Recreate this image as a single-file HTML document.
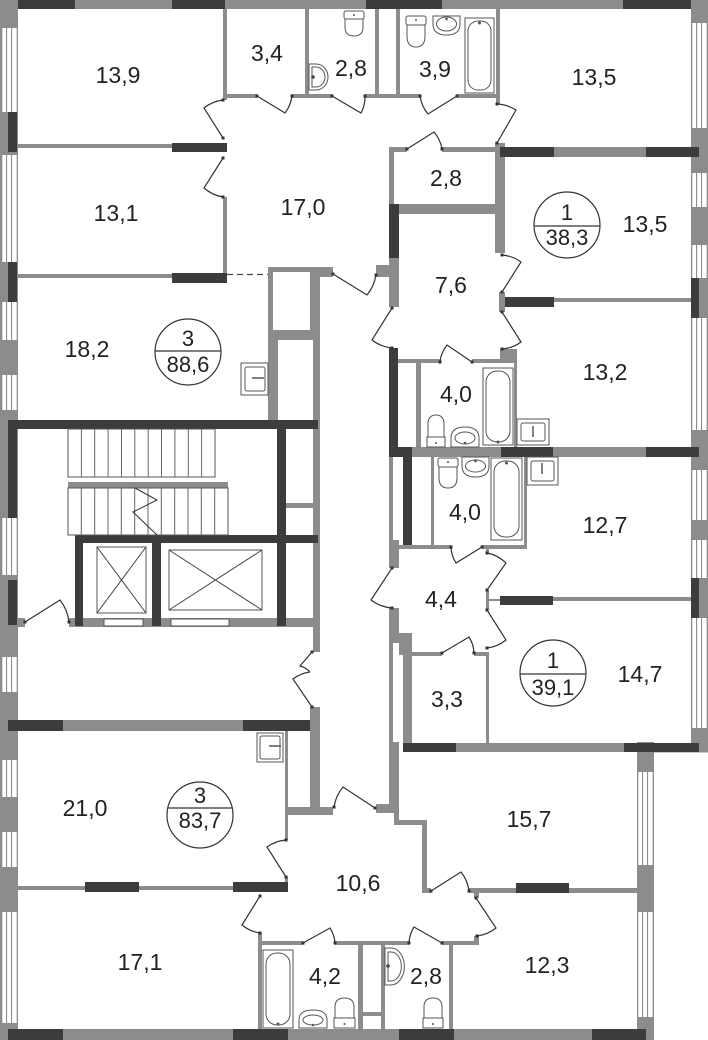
<!DOCTYPE html>
<html><head><meta charset="utf-8">
<style>
html,body{margin:0;padding:0;background:#fff}
svg{display:block}
.g{fill:#8c8c8c}
.d{fill:#3c3c3c}
.ln{stroke:#333;stroke-width:1.2;fill:none}
.fx{fill:#fff;stroke:#555;stroke-width:1}
.st{stroke:#666;stroke-width:1}
text{font-family:"Liberation Sans",Arial,sans-serif;font-size:23px;fill:#222;text-anchor:middle}
.c{font-size:22px}
</style></head>
<body>
<svg width="708" height="1040" viewBox="0 0 708 1040" xmlns="http://www.w3.org/2000/svg">
<defs>
<pattern id="wl" patternUnits="userSpaceOnUse" x="1" y="0" width="17" height="20">
<rect width="17" height="20" fill="#fff"/>
<rect x="0" y="0" width="1.3" height="20" fill="#8c8c8c"/>
<rect x="5" y="0" width="1.1" height="20" fill="#8c8c8c"/>
<rect x="10" y="0" width="1.1" height="20" fill="#8c8c8c"/>
<rect x="15.7" y="0" width="1.3" height="20" fill="#8c8c8c"/>
</pattern>
<pattern id="wr" patternUnits="userSpaceOnUse" x="691" y="0" width="17" height="20">
<rect width="17" height="20" fill="#fff"/>
<rect x="0" y="0" width="1.3" height="20" fill="#8c8c8c"/>
<rect x="5" y="0" width="1.1" height="20" fill="#8c8c8c"/>
<rect x="10" y="0" width="1.1" height="20" fill="#8c8c8c"/>
<rect x="15.7" y="0" width="1.3" height="20" fill="#8c8c8c"/>
</pattern>
<pattern id="wb" patternUnits="userSpaceOnUse" x="637" y="0" width="17" height="20">
<rect width="17" height="20" fill="#fff"/>
<rect x="0" y="0" width="1.3" height="20" fill="#8c8c8c"/>
<rect x="5" y="0" width="1.1" height="20" fill="#8c8c8c"/>
<rect x="10" y="0" width="1.1" height="20" fill="#8c8c8c"/>
<rect x="15.7" y="0" width="1.3" height="20" fill="#8c8c8c"/>
</pattern>
</defs>
<rect width="708" height="1040" fill="#fff"/>

<!-- OUTER WALLS -->
<rect class="g" x="0" y="0" width="708" height="9"/>
<rect class="d" x="0" y="0" width="75" height="9"/>
<rect class="d" x="172" y="0" width="53" height="9"/>
<rect class="d" x="366" y="0" width="76" height="9"/>
<rect class="d" x="623" y="0" width="76" height="9"/>

<rect class="g" x="0" y="0" width="18" height="1040"/>
<rect fill="url(#wl)" x="1" y="28" width="17" height="84"/>
<rect fill="url(#wl)" x="1" y="155" width="17" height="107"/>
<rect fill="url(#wl)" x="1" y="302" width="17" height="38"/>
<rect fill="url(#wl)" x="1" y="375" width="17" height="35"/>
<rect fill="url(#wl)" x="1" y="518" width="17" height="57"/>
<rect fill="url(#wl)" x="1" y="657" width="17" height="35"/>
<rect fill="url(#wl)" x="1" y="760" width="17" height="37"/>
<rect fill="url(#wl)" x="1" y="832" width="17" height="35"/>
<rect fill="url(#wl)" x="1" y="912" width="17" height="111"/>
<rect class="d" x="8" y="112" width="9" height="40"/>
<rect class="d" x="8" y="262" width="9" height="40"/>
<rect class="d" x="8" y="420" width="9" height="98"/>
<rect class="d" x="8" y="580" width="9" height="45"/>

<rect class="g" x="691" y="0" width="17" height="752"/>
<rect fill="url(#wr)" x="691" y="23" width="17" height="105"/>
<rect fill="url(#wr)" x="691" y="173" width="17" height="34"/>
<rect fill="url(#wr)" x="691" y="245" width="17" height="33"/>
<rect fill="url(#wr)" x="691" y="318" width="17" height="112"/>
<rect fill="url(#wr)" x="691" y="470" width="17" height="50"/>
<rect fill="url(#wr)" x="691" y="540" width="17" height="38"/>
<rect fill="url(#wr)" x="691" y="618" width="17" height="110"/>
<rect class="d" x="691" y="278" width="8" height="40"/>
<rect class="d" x="691" y="578" width="8" height="40"/>

<rect class="g" x="637" y="742" width="17" height="298"/>
<rect fill="url(#wb)" x="637" y="772" width="17" height="93"/>
<rect fill="url(#wb)" x="637" y="912" width="17" height="105"/>
<rect class="g" x="654" y="751" width="54" height="1.5"/>

<rect class="g" x="0" y="1029" width="654" height="11"/>
<rect class="d" x="8" y="1029" width="55" height="11"/>
<rect class="d" x="233" y="1029" width="55" height="11"/>
<rect class="d" x="399" y="1029" width="55" height="11"/>
<rect class="d" x="592" y="1029" width="54" height="11"/>

<!-- TOP-LEFT APARTMENT -->
<rect class="g" x="223" y="9" width="4" height="91"/>
<rect class="g" x="223" y="197" width="4" height="77"/>
<rect class="g" x="18" y="144" width="154" height="4"/>
<rect class="d" x="172" y="143" width="55" height="9"/>
<rect class="g" x="18" y="274" width="154" height="4"/>
<rect class="d" x="172" y="273" width="55" height="10"/>
<line x1="227" y1="274.5" x2="268" y2="274.5" stroke="#444" stroke-width="1.2" stroke-dasharray="6,4"/>
<rect class="g" x="223" y="94" width="34" height="4"/>
<rect class="g" x="292" y="94" width="40" height="4"/>
<rect class="g" x="365" y="94" width="55" height="4"/>
<rect class="g" x="457" y="94" width="42" height="4"/>
<rect class="g" x="305" y="9" width="4" height="87"/>
<rect class="g" x="375" y="9" width="4" height="87"/>
<rect class="g" x="396" y="9" width="4" height="87"/>
<rect class="g" x="496" y="9" width="4" height="95"/>
<rect class="g" x="495" y="143" width="10" height="110"/>
<rect class="g" x="389" y="147" width="18" height="5"/>
<rect class="g" x="442" y="147" width="58" height="5"/>
<rect class="g" x="389" y="147" width="5" height="58"/>
<rect class="g" x="394" y="204" width="111" height="10"/>
<rect class="d" x="389" y="204" width="10" height="54"/>
<rect class="g" x="389" y="258" width="10" height="49"/>
<rect class="g" x="376" y="265" width="23" height="12"/>

<!-- right top walls -->
<rect class="d" x="500" y="147" width="54" height="10"/>
<rect class="g" x="554" y="147" width="92" height="10"/>
<rect class="d" x="646" y="147" width="53" height="10"/>
<rect class="d" x="500" y="297" width="54" height="10"/>
<rect class="g" x="554" y="298" width="137" height="4"/>
<rect class="g" x="499" y="292" width="6" height="20"/>
<rect class="g" x="500" y="349" width="17" height="14"/>

<rect class="d" x="389" y="348" width="9" height="109"/>
<rect class="g" x="398" y="359" width="43" height="4"/>
<rect class="g" x="472" y="359" width="30" height="4"/>
<rect class="g" x="416" y="363" width="5" height="84"/>
<rect class="g" x="514" y="360" width="3" height="87"/>

<rect class="d" x="389" y="447" width="23" height="10"/>
<rect class="g" x="412" y="447" width="89" height="10"/>
<rect class="d" x="501" y="447" width="52" height="10"/>
<rect class="g" x="553" y="447" width="93" height="10"/>
<rect class="d" x="646" y="447" width="53" height="10"/>

<rect class="g" x="389" y="457" width="4" height="83"/>
<rect class="d" x="403" y="447" width="9" height="101"/>
<rect class="g" x="431" y="457" width="3" height="88"/>
<rect class="g" x="524" y="457" width="3" height="91"/>
<rect class="g" x="389" y="545" width="62" height="4"/>
<rect class="g" x="482" y="545" width="45" height="4"/>
<rect class="g" x="389" y="540" width="10" height="28"/>

<rect class="g" x="486" y="549" width="3" height="4"/>
<rect class="g" x="486" y="590" width="3" height="20"/>
<rect class="g" x="489" y="599" width="11" height="2"/>
<rect class="d" x="500" y="596" width="53" height="9"/>
<rect class="g" x="553" y="597" width="138" height="4"/>
<rect class="g" x="389" y="608" width="10" height="35"/>
<rect class="g" x="399" y="633" width="13" height="22"/>
<rect class="g" x="389" y="643" width="4" height="99"/>
<rect class="g" x="403" y="643" width="9" height="109"/>
<rect class="g" x="412" y="652" width="30" height="4"/>
<rect class="g" x="474" y="652" width="15" height="4"/>
<rect class="g" x="486" y="652" width="3" height="91"/>

<rect class="d" x="403" y="743" width="53" height="9"/>
<rect class="g" x="456" y="743" width="168" height="9"/>
<rect class="d" x="624" y="743" width="75" height="9"/>

<!-- bottom right -->
<rect class="g" x="389" y="742" width="10" height="66"/>
<rect class="g" x="376" y="804" width="23" height="9"/>
<rect class="g" x="394" y="808" width="5" height="17"/>
<rect class="g" x="394" y="820" width="33" height="5"/>
<rect class="g" x="422" y="820" width="5" height="73"/>
<rect class="g" x="422" y="888" width="9" height="5"/>
<rect class="g" x="469" y="888" width="47" height="5"/>
<rect class="d" x="516" y="883" width="53" height="10"/>
<rect class="g" x="569" y="888" width="68" height="5"/>
<rect class="g" x="474" y="893" width="5" height="5"/>
<rect class="g" x="474" y="936" width="5" height="9"/>
<rect class="g" x="442" y="941" width="37" height="4"/>
<rect class="g" x="449" y="945" width="4" height="84"/>
<rect class="g" x="381" y="941" width="4" height="88"/>
<rect class="g" x="358" y="941" width="5" height="88"/>
<rect class="g" x="363" y="1012" width="18" height="4"/>
<rect class="g" x="258" y="941" width="45" height="4"/>
<rect class="g" x="335" y="941" width="74" height="4"/>
<rect class="g" x="258" y="933" width="4" height="96"/>

<!-- bottom left -->
<rect class="d" x="8" y="720" width="55" height="11"/>
<rect class="g" x="63" y="720" width="180" height="11"/>
<rect class="d" x="243" y="720" width="77" height="11"/>
<rect class="g" x="310" y="707" width="10" height="103"/>
<rect class="g" x="285" y="731" width="3" height="109"/>
<rect class="g" x="288" y="807" width="45" height="8"/>
<rect class="g" x="285" y="877" width="3" height="5"/>
<rect class="g" x="18" y="886" width="67" height="4"/>
<rect class="d" x="85" y="882" width="54" height="10"/>
<rect class="g" x="139" y="886" width="94" height="4"/>
<rect class="d" x="233" y="882" width="55" height="10"/>

<!-- shaft / stair block -->
<rect class="g" x="268" y="267" width="52" height="153"/>
<rect fill="#fff" x="273" y="272" width="37" height="58"/>
<rect fill="#fff" x="278" y="340" width="35" height="80"/>
<rect class="g" x="320" y="267" width="13" height="10"/>
<rect class="g" x="313" y="267" width="7" height="385"/>
<rect class="g" x="286" y="503" width="27" height="5"/>
<rect class="g" x="18" y="618" width="7" height="9"/>
<rect class="g" x="69" y="618" width="249" height="9"/>
<rect class="d" x="8" y="420" width="310" height="9"/>
<rect class="d" x="277" y="420" width="9" height="206"/>
<rect class="d" x="75" y="535" width="243" height="8"/>
<rect class="d" x="75" y="535" width="8" height="91"/>
<rect class="d" x="152" y="535" width="9" height="91"/>
<rect class="fx" x="104" y="619" width="39" height="7"/>
<rect class="fx" x="171" y="619" width="58" height="7"/>

<!-- stairs -->
<rect class="fx" x="68" y="429" width="147" height="48"/>
<path class="st" d="M81.4,429V477M94.7,429V477M108.1,429V477M121.5,429V477M134.8,429V477M148.2,429V477M161.5,429V477M174.9,429V477M188.3,429V477M201.6,429V477"/>
<rect class="g" x="68" y="482" width="160" height="6"/>
<rect class="fx" x="68" y="488" width="160" height="47"/>
<path class="st" d="M81.3,488V535M94.7,488V535M108,488V535M121.3,488V535M134.7,488V535M148,488V535M161.3,488V535M174.7,488V535M188,488V535M201.3,488V535M214.7,488V535"/>
<polyline points="135,488 157,500 133,512 157,535" fill="none" stroke="#333" stroke-width="1"/>

<!-- elevators -->
<rect class="fx" x="97" y="547" width="49" height="66" stroke="#444"/>
<path d="M97,547L146,613M146,547L97,613" stroke="#444" stroke-width="1"/>
<rect class="fx" x="169" y="550" width="93" height="60" stroke="#444"/>
<path d="M169,550L262,610M262,550L169,610" stroke="#444" stroke-width="1"/>

<!-- DOORS -->
<g class="ln">
<path d="M257,96 L285,113 A35,35 0 0 0 292,96"/>
<path d="M332,96 L361,113 A33,33 0 0 0 365,96"/>
<path d="M457,96 L428,114 A37,37 0 0 1 420,96"/>
<path d="M223,138 L204,108 A38,38 0 0 1 223,100"/>
<path d="M223,158 L204,188 A39,39 0 0 0 223,197"/>
<path d="M497,143 L516,110 A39,39 0 0 0 497,104"/>
<path d="M407,149 L434,132 A35,35 0 0 1 442,149"/>
<path d="M333,274 L367,295 A43,43 0 0 0 376,275"/>
<path d="M392,308 L372,340 A40,40 0 0 0 392,348"/>
<path d="M502,292 L521,262 A37,37 0 0 0 502,255"/>
<path d="M502,312 L521,342 A37,37 0 0 1 502,349"/>
<path d="M472,362 L447,345 A32,32 0 0 0 440,362"/>
<path d="M482,547 L456,563 A31,31 0 0 1 451,547"/>
<path d="M487,590 L506,563 A37,37 0 0 0 487,553"/>
<path d="M487,610 L506,640 A38,38 0 0 1 487,648"/>
<path d="M392,568 L371,600 A40,40 0 0 0 392,608"/>
<path d="M442,653 L469,637 A32,32 0 0 1 474,653"/>
<path d="M25,622 L60,600 A44,44 0 0 1 69,622"/>
<path d="M312,652 L300,666 Q305,667 310,672 M312,707 L293,679 Q301,673 310,672"/>
<path d="M375,808 L343,787 A41,41 0 0 0 334,807"/>
<path d="M286,877 L267,847 A37,37 0 0 1 286,840"/>
<path d="M260,896 L242,925 A37,37 0 0 0 260,933"/>
<path d="M303,943 L330,928 A32,32 0 0 1 335,943"/>
<path d="M442,943 L414,927 A33,33 0 0 0 409,943"/>
<path d="M431,891 L461,872 A38,38 0 0 1 469,891"/>
<path d="M476,898 L496,928 A38,38 0 0 1 477,936"/>
</g>
<g fill="#333">
<rect x="255.5" y="94.5" width="3" height="3"/><rect x="290.5" y="94.5" width="3" height="3"/>
<rect x="330.5" y="94.5" width="3" height="3"/><rect x="363.5" y="94.5" width="3" height="3"/>
<rect x="455.5" y="94.5" width="3" height="3"/><rect x="418.5" y="94.5" width="3" height="3"/>
<rect x="221.5" y="136.5" width="3" height="3"/><rect x="221.5" y="98.5" width="3" height="3"/>
<rect x="221.5" y="156.5" width="3" height="3"/><rect x="221.5" y="195.5" width="3" height="3"/>
<rect x="495.5" y="141.5" width="3" height="3"/><rect x="495.5" y="102.5" width="3" height="3"/>
<rect x="405.5" y="147.5" width="3" height="3"/><rect x="440.5" y="147.5" width="3" height="3"/>
<rect x="331.5" y="272.5" width="3" height="3"/><rect x="374.5" y="273.5" width="3" height="3"/>
<rect x="390.5" y="306.5" width="3" height="3"/><rect x="390.5" y="346.5" width="3" height="3"/>
<rect x="500.5" y="290.5" width="3" height="3"/><rect x="500.5" y="253.5" width="3" height="3"/>
<rect x="500.5" y="310.5" width="3" height="3"/><rect x="500.5" y="347.5" width="3" height="3"/>
<rect x="470.5" y="360.5" width="3" height="3"/><rect x="438.5" y="360.5" width="3" height="3"/>
<rect x="480.5" y="545.5" width="3" height="3"/><rect x="449.5" y="545.5" width="3" height="3"/>
<rect x="485.5" y="588.5" width="3" height="3"/><rect x="485.5" y="551.5" width="3" height="3"/>
<rect x="485.5" y="608.5" width="3" height="3"/><rect x="485.5" y="646.5" width="3" height="3"/>
<rect x="390.5" y="566.5" width="3" height="3"/><rect x="390.5" y="606.5" width="3" height="3"/>
<rect x="440.5" y="651.5" width="3" height="3"/><rect x="472.5" y="651.5" width="3" height="3"/>
<rect x="23.5" y="620.5" width="3" height="3"/><rect x="67.5" y="620.5" width="3" height="3"/>
<rect x="310.5" y="650.5" width="3" height="3"/><rect x="310.5" y="705.5" width="3" height="3"/>
<rect x="373.5" y="806.5" width="3" height="3"/><rect x="332.5" y="805.5" width="3" height="3"/>
<rect x="284.5" y="875.5" width="3" height="3"/><rect x="284.5" y="838.5" width="3" height="3"/>
<rect x="258.5" y="894.5" width="3" height="3"/><rect x="258.5" y="931.5" width="3" height="3"/>
<rect x="301.5" y="941.5" width="3" height="3"/><rect x="333.5" y="941.5" width="3" height="3"/>
<rect x="440.5" y="941.5" width="3" height="3"/><rect x="407.5" y="941.5" width="3" height="3"/>
<rect x="429.5" y="889.5" width="3" height="3"/><rect x="467.5" y="889.5" width="3" height="3"/>
<rect x="474.5" y="896.5" width="3" height="3"/><rect x="475.5" y="934.5" width="3" height="3"/>
</g>

<!-- FIXTURES -->
<rect class="fx" x="344" y="11" width="20" height="8" rx="2"/>
<path class="fx" d="M345,19 L345,27 Q345,36 354,36 Q363,36 363,27 L363,19 Z"/>
<circle cx="354" cy="15" r="1" fill="#555"/>
<path class="fx" d="M309,64 L316,64 A12,13 0 0 1 316,90 L309,90 Z"/>
<path class="fx" d="M312,67 L316,67 A9,10 0 0 1 316,87 L312,87 Z"/>
<circle cx="313" cy="77" r="1.8" fill="#444"/>
<rect class="fx" x="406" y="16" width="20" height="9" rx="2"/>
<path class="fx" d="M407,25 L407,36 Q407,47 416,47 Q425,47 425,36 L425,25 Z"/>
<circle cx="416" cy="20" r="1" fill="#555"/>
<path class="fx" d="M433,16 L460,16 L460,24 Q460,35 446.5,35 Q433,35 433,24 Z"/>
<ellipse class="fx" cx="446.5" cy="24" rx="10" ry="7"/>
<circle cx="446.5" cy="19" r="1.3" fill="#555"/>
<rect class="fx" x="465" y="18" width="29" height="75"/>
<rect class="fx" x="468" y="21" width="23" height="69" rx="10"/>
<circle cx="479.5" cy="23" r="1.5" fill="#555"/>
<path class="fx" d="M428,437 L428,424 Q428,415 436,415 Q444,415 444,424 L444,437 Z"/>
<rect class="fx" x="427" y="437" width="18" height="10"/>
<circle cx="436" cy="443" r="1" fill="#555"/>
<path class="fx" d="M451,447 L451,438 Q451,427 465,427 Q479,427 479,438 L479,447 Z"/>
<ellipse class="fx" cx="465" cy="438" rx="10" ry="6"/>
<circle cx="465" cy="443" r="1.3" fill="#555"/>
<rect class="fx" x="483" y="368" width="30" height="77"/>
<rect class="fx" x="486" y="371" width="24" height="71" rx="11"/>
<circle cx="498" cy="442" r="1.5" fill="#555"/>
<rect class="fx" x="517" y="419" width="32" height="26"/>
<rect class="fx" x="521" y="423" width="24" height="18" rx="2"/>
<path d="M533,426V437" stroke="#555" stroke-width="1.5"/>
<rect class="fx" x="438" y="458" width="20" height="9" rx="2"/>
<path class="fx" d="M439,467 L439,478 Q439,488 448,488 Q457,488 457,478 L457,467 Z"/>
<circle cx="448" cy="462" r="1" fill="#555"/>
<path class="fx" d="M462,457 L489,457 L489,466 Q489,477 475.5,477 Q462,477 462,466 Z"/>
<ellipse class="fx" cx="475.5" cy="466" rx="10" ry="6"/>
<circle cx="475.5" cy="461" r="1.3" fill="#555"/>
<rect class="fx" x="491" y="458" width="31" height="82"/>
<rect class="fx" x="494" y="461" width="25" height="76" rx="11"/>
<circle cx="506.5" cy="463" r="1.5" fill="#555"/>
<rect class="fx" x="527" y="457" width="31" height="28"/>
<rect class="fx" x="531" y="461" width="23" height="20" rx="2"/>
<path d="M542,463V474" stroke="#555" stroke-width="1.5"/>
<rect class="fx" x="241" y="363" width="27" height="32"/>
<rect class="fx" x="245" y="367" width="20" height="24" rx="2"/>
<path d="M252,378H264" stroke="#555" stroke-width="1.5"/>
<rect class="fx" x="257" y="733" width="26" height="29"/>
<rect class="fx" x="260" y="736" width="20" height="23" rx="2"/>
<path d="M269,746H281" stroke="#555" stroke-width="1.5"/>
<rect class="fx" x="263" y="950" width="30" height="78"/>
<rect class="fx" x="266" y="953" width="24" height="72" rx="11"/>
<circle cx="278" cy="1024" r="1.5" fill="#555"/>
<path class="fx" d="M299,1028 L299,1020 Q299,1010 313,1010 Q327,1010 327,1020 L327,1028 Z"/>
<ellipse class="fx" cx="313" cy="1020" rx="10" ry="5"/>
<circle cx="313" cy="1025" r="1.3" fill="#555"/>
<path class="fx" d="M335,1018 L335,1007 Q335,998 344.5,998 Q354,998 354,1007 L354,1018 Z"/>
<rect class="fx" x="334" y="1018" width="21" height="10"/>
<circle cx="344.5" cy="1024" r="1" fill="#555"/>
<path class="fx" d="M385,948 L391,948 A13,18 0 0 1 391,985 L385,985 Z"/>
<path class="fx" d="M388,952 L391,952 A10,14 0 0 1 391,981 L388,981 Z"/>
<circle cx="388" cy="966" r="1.8" fill="#444"/>
<path class="fx" d="M424,1018 L424,1007 Q424,998 433,998 Q442,998 442,1007 L442,1018 Z"/>
<rect class="fx" x="423" y="1018" width="20" height="10"/>
<circle cx="433" cy="1024" r="1" fill="#555"/>

<!-- CIRCLE BADGES -->
<g fill="none" stroke="#333" stroke-width="1.2">
<circle cx="188" cy="352" r="33"/><line x1="155" y1="351" x2="221" y2="351"/>
<circle cx="567" cy="225" r="33"/><line x1="534" y1="226" x2="600" y2="226"/>
<circle cx="553" cy="673" r="33"/><line x1="520" y1="674" x2="586" y2="674"/>
<circle cx="200" cy="815" r="33"/><line x1="168" y1="808" x2="232" y2="808"/>
</g>

<!-- LABELS -->
<text x="118" y="83">13,9</text>
<text x="267" y="61">3,4</text>
<text x="351" y="76">2,8</text>
<text x="435" y="77">3,9</text>
<text x="594" y="85">13,5</text>
<text x="303" y="215">17,0</text>
<text x="116" y="221">13,1</text>
<text x="446" y="186">2,8</text>
<text x="645" y="232">13,5</text>
<text class="c" x="567" y="220">1</text>
<text class="c" x="567" y="245">38,3</text>
<text x="451" y="293">7,6</text>
<text x="87" y="357">18,2</text>
<text class="c" x="188" y="346">3</text>
<text class="c" x="188" y="372">88,6</text>
<text x="605" y="380">13,2</text>
<text x="456" y="402">4,0</text>
<text x="465" y="520">4,0</text>
<text x="605" y="533">12,7</text>
<text x="441" y="607">4,4</text>
<text x="640" y="682">14,7</text>
<text class="c" x="553" y="668">1</text>
<text class="c" x="553" y="695">39,1</text>
<text x="447" y="707">3,3</text>
<text x="85" y="816">21,0</text>
<text class="c" x="200" y="803">3</text>
<text class="c" x="200" y="828">83,7</text>
<text x="140" y="970">17,1</text>
<text x="325" y="984">4,2</text>
<text x="358" y="891">10,6</text>
<text x="426" y="984">2,8</text>
<text x="529" y="827">15,7</text>
<text x="547" y="973">12,3</text>
</svg>
</body></html>
